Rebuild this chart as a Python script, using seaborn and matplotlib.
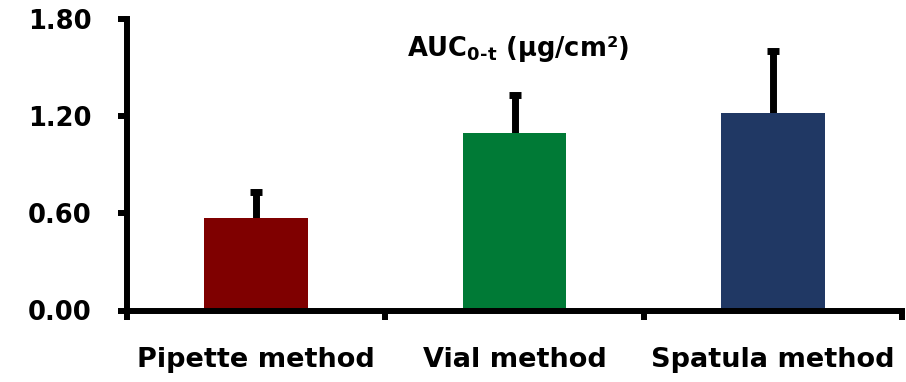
import matplotlib
matplotlib.use("Agg")
import matplotlib.pyplot as plt
import seaborn as sns
import pandas as pd

# AUC(0-t) per application method, with upper SD
methods = ["Pipette method", "Vial method", "Spatula method"]
auc = [0.571, 1.093, 1.222]
sd = [0.160, 0.235, 0.380]
colors = ["#7F0000", "#007A36", "#203864"]
yticks = [0.00, 0.60, 1.20, 1.80]

sns.set_theme(style="white")
plt.rcParams["font.family"] = ["DejaVu Sans"]
plt.rcParams["font.weight"] = "bold"
plt.rcParams["text.color"] = "black"
plt.rcParams["xtick.color"] = "black"
plt.rcParams["ytick.color"] = "black"
plt.rcParams["mathtext.fontset"] = "custom"
plt.rcParams["mathtext.rm"] = "DejaVu Sans:bold"
plt.rcParams["mathtext.bf"] = "DejaVu Sans:bold"

df = pd.DataFrame({"method": methods, "auc": auc, "sd": sd})

fig = plt.figure(figsize=(9.06, 3.82), dpi=100)
ax = fig.add_axes([127 / 906, 1 - 310.5 / 382, (902 - 127) / 906, (310.5 - 19) / 382])

sns.barplot(data=df, x="method", y="auc", hue="method", palette=colors,
            width=0.40, errorbar=None, legend=False, ax=ax, saturation=1,
            linewidth=0, zorder=2)

# one-sided (upward) error bars, drawn beneath the bars
_, caps, _ = ax.errorbar(range(len(methods)), df["auc"],
                         yerr=[[0] * len(sd), df["sd"]],
                         fmt="none", ecolor="black", elinewidth=5, capsize=4.5,
                         capthick=5, zorder=1)
for cap in caps:
    if all(abs(a - b) < 1e-9 for a, b in zip(cap.get_ydata(), auc)):
        cap.set_visible(False)

ax.set_ylim(0, 1.80)
ax.set_xlim(-0.5, 2.5)
ax.set_yticks(yticks)
ax.set_yticklabels([f"{v:.2f}" for v in yticks], fontsize=18.5, fontweight="bold")
ax.set_xticks([-0.5, 0.5, 1.5, 2.5], minor=False)
ax.set_xticklabels([])
ax.set_xticks([0, 1, 2], minor=True)
ax.set_xticklabels(methods, minor=True, fontsize=19.5, fontweight="bold")
ax.tick_params(axis="x", which="major", direction="out", length=6.5, width=4.3,
               color="black", bottom=True)
ax.tick_params(axis="x", which="minor", length=0, pad=26)
ax.tick_params(axis="y", direction="out", length=6.5, width=4.3, color="black",
               left=True, pad=19)
ax.set_xlabel("")
ax.set_ylabel("")

for side in ["top", "right"]:
    ax.spines[side].set_visible(False)
for side in ["left", "bottom"]:
    ax.spines[side].set_linewidth(4.3)
    ax.spines[side].set_color("black")

ax.text(0.505, 0.873, r"AUC$_{\mathrm{0‐t}}$ (µg/cm²)",
        transform=ax.transAxes, ha="center", va="baseline",
        fontsize=18.5, fontweight="bold")

fig.savefig("out.png", dpi=100)
